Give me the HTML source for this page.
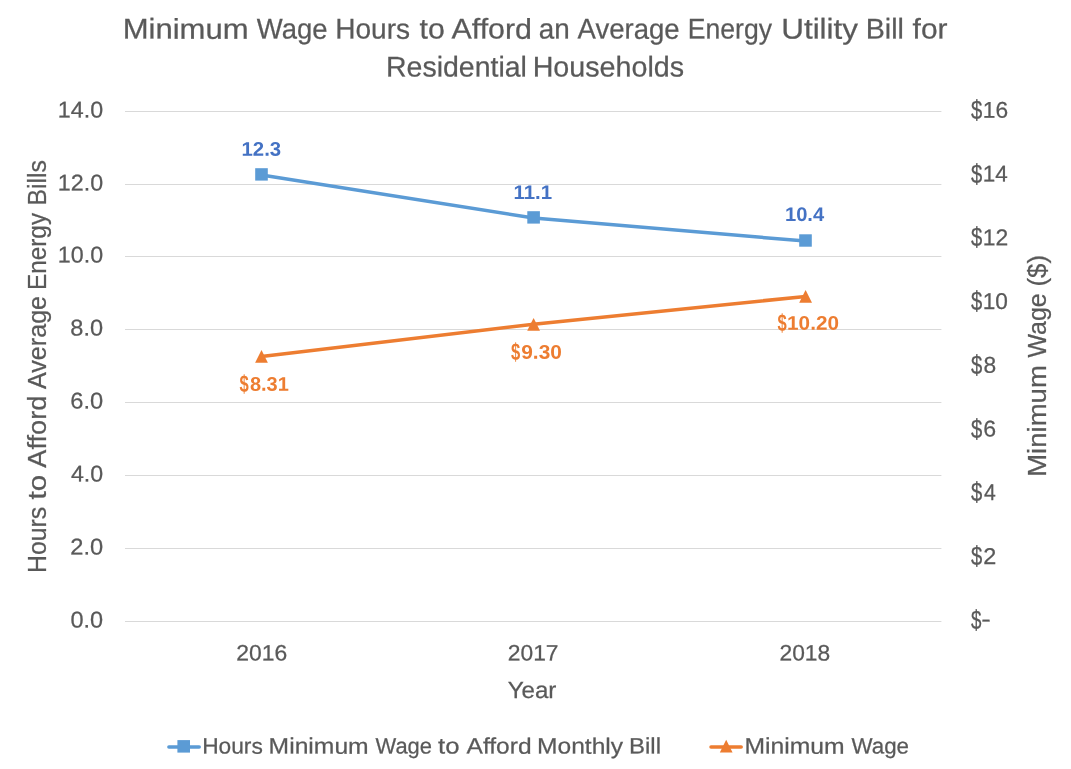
<!DOCTYPE html>
<html><head><meta charset="utf-8"><title>Chart</title>
<style>html,body{margin:0;padding:0;background:#fff;}body{width:1071px;height:769px;overflow:hidden;}svg{display:block;will-change:transform;}text{font-family:"Liberation Sans",sans-serif;fill:#595959;stroke:#595959;stroke-width:0.25px;}</style></head><body>
<svg width="1071" height="769" viewBox="0 0 1071 769">
<line x1="125" y1="111.5" x2="941.4" y2="111.5" stroke="#D9D9D9" stroke-width="1.2"/>
<line x1="125" y1="184.5" x2="941.4" y2="184.5" stroke="#D9D9D9" stroke-width="1.2"/>
<line x1="125" y1="256.5" x2="941.4" y2="256.5" stroke="#D9D9D9" stroke-width="1.2"/>
<line x1="125" y1="329.5" x2="941.4" y2="329.5" stroke="#D9D9D9" stroke-width="1.2"/>
<line x1="125" y1="402.5" x2="941.4" y2="402.5" stroke="#D9D9D9" stroke-width="1.2"/>
<line x1="125" y1="475.5" x2="941.4" y2="475.5" stroke="#D9D9D9" stroke-width="1.2"/>
<line x1="125" y1="548.5" x2="941.4" y2="548.5" stroke="#D9D9D9" stroke-width="1.2"/>
<line x1="125" y1="621.5" x2="941.4" y2="621.5" stroke="#D9D9D9" stroke-width="1.2"/>
<text transform="translate(122.64 38.60) rotate(0.03)" font-size="28.50" textLength="126.02" lengthAdjust="spacingAndGlyphs">Minimum</text>
<text transform="translate(256.86 38.60) rotate(0.03)" font-size="28.50" textLength="70.74" lengthAdjust="spacingAndGlyphs">Wage</text>
<text transform="translate(335.19 38.60) rotate(0.03)" font-size="28.50" textLength="74.82" lengthAdjust="spacingAndGlyphs">Hours</text>
<text transform="translate(419.52 38.60) rotate(0.03)" font-size="28.50" textLength="25.27" lengthAdjust="spacingAndGlyphs">to</text>
<text transform="translate(451.55 38.60) rotate(0.03)" font-size="28.50" textLength="80.45" lengthAdjust="spacingAndGlyphs">Afford</text>
<text transform="translate(538.83 38.60) rotate(0.03)" font-size="28.50" textLength="30.98" lengthAdjust="spacingAndGlyphs">an</text>
<text transform="translate(577.55 38.60) rotate(0.03)" font-size="28.50" textLength="102.04" lengthAdjust="spacingAndGlyphs">Average</text>
<text transform="translate(687.81 38.60) rotate(0.03)" font-size="28.50" textLength="84.24" lengthAdjust="spacingAndGlyphs">Energy</text>
<text transform="translate(781.17 38.60) rotate(0.03)" font-size="28.50" textLength="76.90" lengthAdjust="spacingAndGlyphs">Utility</text>
<text transform="translate(865.63 38.60) rotate(0.03)" font-size="28.50" textLength="38.29" lengthAdjust="spacingAndGlyphs">Bill</text>
<text transform="translate(912.58 38.60) rotate(0.03)" font-size="28.50" textLength="34.95" lengthAdjust="spacingAndGlyphs">for</text>
<text transform="translate(386.05 76.50) rotate(0.03)" font-size="28.50" textLength="140.84" lengthAdjust="spacingAndGlyphs">Residential</text>
<text transform="translate(532.64 76.50) rotate(0.03)" font-size="28.50" textLength="151.38" lengthAdjust="spacingAndGlyphs">Households</text>
<text transform="translate(57.81 117.60) rotate(0.03)" font-size="22.80" textLength="45.28" lengthAdjust="spacingAndGlyphs">14.0</text>
<text transform="translate(57.81 190.60) rotate(0.03)" font-size="22.80" textLength="45.28" lengthAdjust="spacingAndGlyphs">12.0</text>
<text transform="translate(57.81 262.60) rotate(0.03)" font-size="22.80" textLength="45.28" lengthAdjust="spacingAndGlyphs">10.0</text>
<text transform="translate(70.37 335.60) rotate(0.03)" font-size="22.80" textLength="32.76" lengthAdjust="spacingAndGlyphs">8.0</text>
<text transform="translate(70.21 408.60) rotate(0.03)" font-size="22.80" textLength="32.92" lengthAdjust="spacingAndGlyphs">6.0</text>
<text transform="translate(70.89 481.60) rotate(0.03)" font-size="22.80" textLength="32.22" lengthAdjust="spacingAndGlyphs">4.0</text>
<text transform="translate(70.21 554.60) rotate(0.03)" font-size="22.80" textLength="32.92" lengthAdjust="spacingAndGlyphs">2.0</text>
<text transform="translate(70.47 627.60) rotate(0.03)" font-size="22.80" textLength="32.65" lengthAdjust="spacingAndGlyphs">0.0</text>
<text transform="translate(971.09 628.92) rotate(0.03) scale(1 1.1762)" font-size="22.80" textLength="10.42" lengthAdjust="spacingAndGlyphs">$</text>
<text transform="translate(981.35 626.80) rotate(0.03)" font-size="22.80" textLength="9.49" lengthAdjust="spacingAndGlyphs">-</text>
<text transform="translate(971.08 565.17) rotate(0.03) scale(1 1.1762)" font-size="22.80" textLength="11.26" lengthAdjust="spacingAndGlyphs">$</text>
<text transform="translate(983.32 563.95) rotate(0.03)" font-size="22.80" textLength="13.05" lengthAdjust="spacingAndGlyphs">2</text>
<text transform="translate(971.08 501.42) rotate(0.03) scale(1 1.1762)" font-size="22.80" textLength="11.26" lengthAdjust="spacingAndGlyphs">$</text>
<text transform="translate(984.03 500.20) rotate(0.03)" font-size="22.80" textLength="11.80" lengthAdjust="spacingAndGlyphs">4</text>
<text transform="translate(971.08 437.67) rotate(0.03) scale(1 1.1762)" font-size="22.80" textLength="11.26" lengthAdjust="spacingAndGlyphs">$</text>
<text transform="translate(983.33 436.45) rotate(0.03)" font-size="22.80" textLength="12.86" lengthAdjust="spacingAndGlyphs">6</text>
<text transform="translate(971.08 373.92) rotate(0.03) scale(1 1.1762)" font-size="22.80" textLength="11.26" lengthAdjust="spacingAndGlyphs">$</text>
<text transform="translate(983.50 372.70) rotate(0.03)" font-size="22.80" textLength="12.68" lengthAdjust="spacingAndGlyphs">8</text>
<text transform="translate(971.08 310.17) rotate(0.03) scale(1 1.1762)" font-size="22.80" textLength="11.26" lengthAdjust="spacingAndGlyphs">$</text>
<text transform="translate(982.76 308.95) rotate(0.03)" font-size="22.80" textLength="25.19" lengthAdjust="spacingAndGlyphs">10</text>
<text transform="translate(971.08 246.42) rotate(0.03) scale(1 1.1762)" font-size="22.80" textLength="11.26" lengthAdjust="spacingAndGlyphs">$</text>
<text transform="translate(982.74 245.20) rotate(0.03)" font-size="22.80" textLength="25.47" lengthAdjust="spacingAndGlyphs">12</text>
<text transform="translate(971.08 182.67) rotate(0.03) scale(1 1.1762)" font-size="22.80" textLength="11.26" lengthAdjust="spacingAndGlyphs">$</text>
<text transform="translate(982.78 181.45) rotate(0.03)" font-size="22.80" textLength="24.97" lengthAdjust="spacingAndGlyphs">14</text>
<text transform="translate(971.08 118.92) rotate(0.03) scale(1 1.1762)" font-size="22.80" textLength="11.26" lengthAdjust="spacingAndGlyphs">$</text>
<text transform="translate(982.75 117.70) rotate(0.03)" font-size="22.80" textLength="25.30" lengthAdjust="spacingAndGlyphs">16</text>
<text transform="translate(236.27 660.50) rotate(0.03)" font-size="22.30" textLength="50.91" lengthAdjust="spacingAndGlyphs">2016</text>
<text transform="translate(507.77 660.50) rotate(0.03)" font-size="22.30" textLength="50.76" lengthAdjust="spacingAndGlyphs">2017</text>
<text transform="translate(779.48 660.50) rotate(0.03)" font-size="22.30" textLength="50.70" lengthAdjust="spacingAndGlyphs">2018</text>
<text transform="translate(507.63 698.00) rotate(0.03)" font-size="23.40" textLength="48.76" lengthAdjust="spacingAndGlyphs">Year</text>
<text transform="translate(46.40 571.00) rotate(-90)" x="-2.02" y="0" font-size="26.50" textLength="66.30" lengthAdjust="spacingAndGlyphs">Hours</text>
<text transform="translate(46.40 571.00) rotate(-90)" x="71.55" y="0" font-size="26.50" textLength="24.68" lengthAdjust="spacingAndGlyphs">to</text>
<text transform="translate(46.40 571.00) rotate(-90)" x="103.35" y="0" font-size="26.50" textLength="71.97" lengthAdjust="spacingAndGlyphs">Afford</text>
<text transform="translate(46.40 571.00) rotate(-90)" x="181.95" y="0" font-size="26.50" textLength="93.16" lengthAdjust="spacingAndGlyphs">Average</text>
<text transform="translate(46.40 571.00) rotate(-90)" x="281.03" y="0" font-size="26.50" textLength="77.03" lengthAdjust="spacingAndGlyphs">Energy</text>
<text transform="translate(46.40 571.00) rotate(-90)" x="365.39" y="0" font-size="26.50" textLength="45.49" lengthAdjust="spacingAndGlyphs">Bills</text>
<text transform="translate(1046.00 474.60) rotate(-90)" x="-2.23" y="0" font-size="26.50" textLength="111.63" lengthAdjust="spacingAndGlyphs">Minimum</text>
<text transform="translate(1046.00 474.60) rotate(-90)" x="117.11" y="0" font-size="26.50" textLength="64.22" lengthAdjust="spacingAndGlyphs">Wage</text>
<text transform="translate(1046.00 474.60) rotate(-90)" x="187.99" y="0" font-size="26.50" textLength="31.61" lengthAdjust="spacingAndGlyphs">($)</text>
<polyline points="261.5,175.0 533.6,218.0 805.5,241.1" fill="none" stroke="#5B9BD5" stroke-width="3.5" stroke-linecap="round" stroke-linejoin="round"/>
<rect x="255.2" y="168.2" width="12.6" height="12.4" fill="#5B9BD5"/>
<rect x="527.3" y="211.2" width="12.6" height="12.4" fill="#5B9BD5"/>
<rect x="799.2" y="234.3" width="12.6" height="12.4" fill="#5B9BD5"/>
<polyline points="261.5,356.4 533.6,324.3 805.6,296.4" fill="none" stroke="#ED7D31" stroke-width="3.5" stroke-linecap="round" stroke-linejoin="round"/>
<polygon points="261.5,350.0 267.9,362.8 255.1,362.8" fill="#ED7D31"/>
<polygon points="533.6,317.9 540.0,330.7 527.2,330.7" fill="#ED7D31"/>
<polygon points="805.6,290.0 812.0,302.8 799.2,302.8" fill="#ED7D31"/>
<text transform="translate(241.51 155.80) rotate(0.03)" font-size="19.80" textLength="39.64" lengthAdjust="spacingAndGlyphs" style="fill:#4472C4;stroke:none" font-weight="bold">12.3</text>
<text transform="translate(513.51 198.90) rotate(0.03)" font-size="19.80" textLength="38.65" lengthAdjust="spacingAndGlyphs" style="fill:#4472C4;stroke:none" font-weight="bold">11.1</text>
<text transform="translate(784.93 220.90) rotate(0.03)" font-size="19.80" textLength="39.21" lengthAdjust="spacingAndGlyphs" style="fill:#4472C4;stroke:none" font-weight="bold">10.4</text>
<text transform="translate(239.49 391.94) rotate(0.03) scale(1 1.2136)" font-size="19.80" textLength="9.23" lengthAdjust="spacingAndGlyphs" style="fill:#ED7D31;stroke:none" font-weight="bold">$</text>
<text transform="translate(249.89 390.80) rotate(0.03)" font-size="19.80" textLength="38.90" lengthAdjust="spacingAndGlyphs" style="fill:#ED7D31;stroke:none" font-weight="bold">8.31</text>
<text transform="translate(510.99 359.94) rotate(0.03) scale(1 1.2136)" font-size="19.80" textLength="9.23" lengthAdjust="spacingAndGlyphs" style="fill:#ED7D31;stroke:none" font-weight="bold">$</text>
<text transform="translate(521.26 358.80) rotate(0.03)" font-size="19.80" textLength="40.62" lengthAdjust="spacingAndGlyphs" style="fill:#ED7D31;stroke:none" font-weight="bold">9.30</text>
<text transform="translate(777.39 330.84) rotate(0.03) scale(1 1.2136)" font-size="19.80" textLength="9.23" lengthAdjust="spacingAndGlyphs" style="fill:#ED7D31;stroke:none" font-weight="bold">$</text>
<text transform="translate(787.09 329.70) rotate(0.03)" font-size="19.80" textLength="51.84" lengthAdjust="spacingAndGlyphs" style="fill:#ED7D31;stroke:none" font-weight="bold">10.20</text>
<line x1="168.9" y1="747.1" x2="199.2" y2="747.1" stroke="#5B9BD5" stroke-width="3.5" stroke-linecap="round"/>
<rect x="177.4" y="740.1" width="12.6" height="12.5" fill="#5B9BD5"/>
<text transform="translate(202.17 753.60) rotate(0.03)" font-size="22.30" textLength="60.64" lengthAdjust="spacingAndGlyphs">Hours</text>
<text transform="translate(268.61 753.60) rotate(0.03)" font-size="22.30" textLength="100.04" lengthAdjust="spacingAndGlyphs">Minimum</text>
<text transform="translate(375.50 753.60) rotate(0.03)" font-size="22.30" textLength="56.46" lengthAdjust="spacingAndGlyphs">Wage</text>
<text transform="translate(438.00 753.60) rotate(0.03)" font-size="22.30" textLength="21.50" lengthAdjust="spacingAndGlyphs">to</text>
<text transform="translate(466.54 753.60) rotate(0.03)" font-size="22.30" textLength="65.04" lengthAdjust="spacingAndGlyphs">Afford</text>
<text transform="translate(537.02 753.60) rotate(0.03)" font-size="22.30" textLength="86.02" lengthAdjust="spacingAndGlyphs">Monthly</text>
<text transform="translate(629.07 753.60) rotate(0.03)" font-size="22.30" textLength="31.93" lengthAdjust="spacingAndGlyphs">Bill</text>
<line x1="711.0" y1="747.1" x2="741.2" y2="747.1" stroke="#ED7D31" stroke-width="3.5" stroke-linecap="round"/>
<polygon points="726.2,739.8 732.6,752.6 719.8,752.6" fill="#ED7D31"/>
<text transform="translate(744.51 753.60) rotate(0.03)" font-size="22.30" textLength="100.14" lengthAdjust="spacingAndGlyphs">Minimum</text>
<text transform="translate(851.50 753.60) rotate(0.03)" font-size="22.30" textLength="57.48" lengthAdjust="spacingAndGlyphs">Wage</text>
</svg></body></html>
